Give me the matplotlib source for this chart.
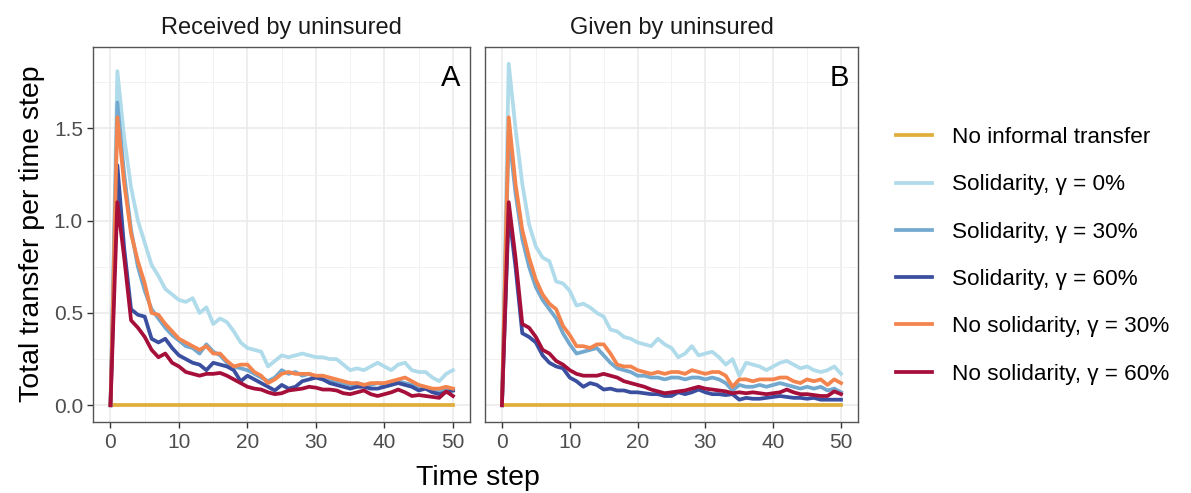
import numpy as np
import matplotlib
matplotlib.use("Agg")
import matplotlib.pyplot as plt
from matplotlib.ticker import MultipleLocator

plt.rcParams["font.family"] = ["Liberation Sans", "DejaVu Sans"]

steps = np.arange(0, 51)
panel_titles = ["Received by uninsured", "Given by uninsured"]
panel_tags = ["A", "B"]
labels = ["No informal transfer", "Solidarity, γ = 0%", "Solidarity, γ = 30%",
          "Solidarity, γ = 60%", "No solidarity, γ = 30%", "No solidarity, γ = 60%"]
colors = ["#E0AE3A", "#B0DBEA", "#74A9CF", "#3B4FA0", "#F4844E", "#A50F3A"]

no_transfer = [0.0] * 51

# Panel A: received by uninsured
a_sol0 = [0, 1.81, 1.45, 1.18, 1.00, 0.88, 0.76, 0.70, 0.63, 0.60,
          0.57, 0.56, 0.58, 0.50, 0.53, 0.44, 0.47, 0.45, 0.40, 0.34,
          0.31, 0.30, 0.29, 0.21, 0.24, 0.27, 0.26, 0.27, 0.28, 0.27,
          0.26, 0.26, 0.25, 0.25, 0.22, 0.19, 0.20, 0.19, 0.21, 0.23,
          0.21, 0.19, 0.22, 0.23, 0.19, 0.18, 0.18, 0.15, 0.13, 0.17, 0.19]
a_sol30 = [0, 1.64, 1.25, 0.95, 0.75, 0.62, 0.52, 0.47, 0.42, 0.38,
           0.35, 0.32, 0.31, 0.28, 0.33, 0.29, 0.27, 0.23, 0.21, 0.20,
           0.19, 0.17, 0.15, 0.13, 0.15, 0.19, 0.17, 0.18, 0.16, 0.17,
           0.15, 0.14, 0.13, 0.13, 0.12, 0.11, 0.12, 0.11, 0.11, 0.12,
           0.11, 0.12, 0.13, 0.12, 0.11, 0.10, 0.09, 0.08, 0.07, 0.09, 0.08]
a_sol60 = [0, 1.30, 0.85, 0.52, 0.49, 0.48, 0.36, 0.34, 0.36, 0.31,
           0.27, 0.25, 0.23, 0.22, 0.19, 0.23, 0.22, 0.21, 0.19, 0.13,
           0.16, 0.14, 0.12, 0.10, 0.08, 0.11, 0.09, 0.10, 0.13, 0.14,
           0.15, 0.14, 0.12, 0.11, 0.10, 0.09, 0.10, 0.10, 0.09, 0.09,
           0.10, 0.11, 0.12, 0.11, 0.10, 0.08, 0.09, 0.07, 0.06, 0.07, 0.08]
a_nosol30 = [0, 1.56, 1.20, 0.93, 0.78, 0.66, 0.50, 0.49, 0.44, 0.40,
             0.36, 0.34, 0.32, 0.30, 0.32, 0.28, 0.28, 0.24, 0.21, 0.22,
             0.22, 0.18, 0.16, 0.12, 0.14, 0.17, 0.18, 0.17, 0.17, 0.17,
             0.16, 0.16, 0.15, 0.14, 0.13, 0.12, 0.12, 0.11, 0.12, 0.12,
             0.12, 0.13, 0.14, 0.15, 0.13, 0.11, 0.10, 0.09, 0.09, 0.10, 0.09]
a_nosol60 = [0, 1.10, 0.80, 0.46, 0.42, 0.37, 0.30, 0.26, 0.28, 0.23,
             0.21, 0.18, 0.17, 0.16, 0.17, 0.17, 0.175, 0.16, 0.14, 0.12,
             0.10, 0.09, 0.085, 0.07, 0.06, 0.065, 0.08, 0.085, 0.09, 0.10,
             0.095, 0.085, 0.085, 0.08, 0.065, 0.06, 0.07, 0.08, 0.06, 0.05,
             0.06, 0.07, 0.085, 0.07, 0.05, 0.055, 0.05, 0.045, 0.04, 0.075, 0.05]

# Panel B: given by uninsured
b_sol0 = [0, 1.85, 1.50, 1.20, 0.98, 0.86, 0.80, 0.78, 0.67, 0.66,
          0.62, 0.54, 0.55, 0.53, 0.50, 0.48, 0.41, 0.40, 0.37, 0.36,
          0.34, 0.33, 0.32, 0.36, 0.33, 0.31, 0.26, 0.28, 0.32, 0.27,
          0.28, 0.29, 0.26, 0.22, 0.25, 0.16, 0.23, 0.22, 0.21, 0.19,
          0.21, 0.23, 0.24, 0.22, 0.20, 0.21, 0.19, 0.18, 0.19, 0.21, 0.17]
b_sol30 = [0, 1.48, 1.15, 0.90, 0.75, 0.64, 0.57, 0.52, 0.47, 0.39,
           0.33, 0.28, 0.29, 0.30, 0.31, 0.27, 0.23, 0.20, 0.19, 0.18,
           0.16, 0.16, 0.15, 0.15, 0.14, 0.15, 0.15, 0.14, 0.15, 0.15,
           0.14, 0.15, 0.14, 0.12, 0.08, 0.11, 0.10, 0.10, 0.11, 0.10,
           0.11, 0.12, 0.11, 0.10, 0.09, 0.10, 0.09, 0.10, 0.08, 0.09, 0.07]
b_sol60 = [0, 1.05, 0.75, 0.39, 0.37, 0.34, 0.27, 0.23, 0.21, 0.20,
           0.15, 0.13, 0.10, 0.12, 0.11, 0.085, 0.09, 0.08, 0.08, 0.07,
           0.07, 0.065, 0.06, 0.06, 0.05, 0.05, 0.07, 0.06, 0.07, 0.085,
           0.07, 0.06, 0.06, 0.055, 0.06, 0.03, 0.04, 0.035, 0.035, 0.04,
           0.045, 0.05, 0.045, 0.04, 0.04, 0.035, 0.04, 0.03, 0.03, 0.03, 0.03]
b_nosol30 = [0, 1.56, 1.20, 0.95, 0.80, 0.68, 0.60, 0.55, 0.52, 0.43,
             0.38, 0.32, 0.32, 0.31, 0.33, 0.33, 0.28, 0.22, 0.21, 0.21,
             0.19, 0.18, 0.17, 0.18, 0.17, 0.18, 0.18, 0.17, 0.19, 0.18,
             0.17, 0.18, 0.18, 0.16, 0.10, 0.14, 0.14, 0.13, 0.14, 0.14,
             0.14, 0.15, 0.15, 0.13, 0.12, 0.14, 0.13, 0.14, 0.11, 0.14, 0.12]
b_nosol60 = [0, 1.10, 0.80, 0.44, 0.42, 0.37, 0.30, 0.28, 0.24, 0.22,
             0.19, 0.17, 0.16, 0.16, 0.16, 0.17, 0.16, 0.15, 0.13, 0.12,
             0.11, 0.10, 0.085, 0.075, 0.065, 0.07, 0.075, 0.08, 0.09, 0.10,
             0.09, 0.085, 0.08, 0.075, 0.065, 0.07, 0.065, 0.07, 0.065, 0.06,
             0.065, 0.07, 0.085, 0.07, 0.06, 0.06, 0.055, 0.05, 0.05, 0.075, 0.06]

panels = [
    [no_transfer, a_sol0, a_sol30, a_sol60, a_nosol30, a_nosol60],
    [no_transfer, b_sol0, b_sol30, b_sol60, b_nosol30, b_nosol60],
]

fig = plt.figure(figsize=(11.91, 4.93), dpi=100)
ax_a = fig.add_axes([0.0784, 0.1434, 0.3163, 0.7619])
ax_b = fig.add_axes([0.4072, 0.1434, 0.3132, 0.7619], sharey=ax_a)

for ax, series, title, tag in zip([ax_a, ax_b], panels, panel_titles, panel_tags):
    for vals, col, lab in zip(series, colors, labels):
        ax.plot(steps, vals, color=col, lw=2.7, label=lab)
    ax.set_xlim(-2.5, 52.5)
    ax.set_ylim(-0.0925, 1.9425)
    ax.xaxis.set_major_locator(MultipleLocator(10))
    ax.xaxis.set_minor_locator(MultipleLocator(5))
    ax.yaxis.set_major_locator(MultipleLocator(0.5))
    ax.yaxis.set_minor_locator(MultipleLocator(0.25))
    ax.grid(which="major", color="#EBEBEB", lw=1.2)
    ax.grid(which="minor", color="#F2F2F2", lw=0.7)
    ax.set_axisbelow(True)
    for sp in ax.spines.values():
        sp.set_color("#555555")
        sp.set_linewidth(1.0)
    ax.tick_params(which="major", length=4, width=1, color="#333333",
                   labelsize=15, labelcolor="#4D4D4D")
    ax.tick_params(which="minor", length=0)
    ax.set_title(title, fontsize=17, color="#1A1A1A", pad=9)
    ax.text(0.975, 0.955, tag, transform=ax.transAxes, ha="right", va="top",
            fontsize=21, color="black")

ax_a.yaxis.set_major_formatter(matplotlib.ticker.FormatStrFormatter("%.1f"))
ax_b.tick_params(axis="y", labelleft=False, length=0)

fig.supylabel("Total transfer per time step", x=0.016, y=0.525, fontsize=20.5)
fig.text(0.401, 0.004, "Time step", ha="center", va="bottom", fontsize=20.5)

handles, labs = ax_a.get_legend_handles_labels()
fig.legend(handles, labs, loc="center left", bbox_to_anchor=(0.735, 0.481),
           frameon=False, fontsize=16.2, handlelength=1.6, handletextpad=0.9,
           labelspacing=1.17)

fig.savefig("out.png", dpi=100)
